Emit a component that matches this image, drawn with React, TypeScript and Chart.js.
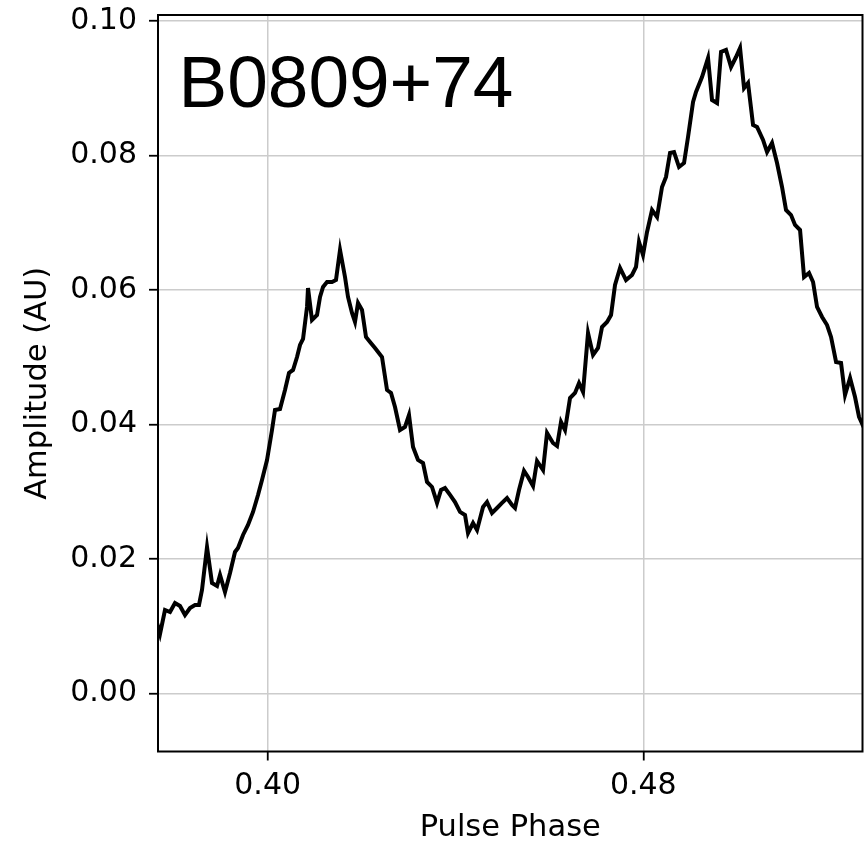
import React, { useEffect, useRef } from "react";
import { Chart, registerables } from "chart.js";
Chart.register(...registerables);

// Pulse phase (x) and amplitude (y)
const phase = [
  0.37579, 0.37707, 0.37813, 0.3792, 0.38026, 0.38133, 0.38239, 0.38346, 0.38452, 0.38537,
  0.38601, 0.38708, 0.38814, 0.38921, 0.38985, 0.39091, 0.39198, 0.39304, 0.39368, 0.39475,
  0.39581, 0.39688, 0.39794, 0.39879, 0.39986, 0.40092, 0.40156, 0.40263, 0.40369, 0.40454,
  0.4054, 0.40625, 0.40689, 0.40753, 0.40838, 0.40859, 0.40944, 0.41051, 0.41115, 0.41179,
  0.41264, 0.4137, 0.41455, 0.41541, 0.41647, 0.41711, 0.41796, 0.4186, 0.41924, 0.42009,
  0.42094, 0.4218, 0.42286, 0.42435, 0.42542, 0.42627, 0.42712, 0.42819, 0.42925, 0.4301,
  0.43096, 0.43202, 0.43309, 0.43394, 0.435, 0.43607, 0.43692, 0.43777, 0.43884, 0.4399,
  0.44097, 0.44203, 0.44267, 0.44374, 0.44459, 0.44587, 0.44672, 0.44778, 0.44885, 0.44991,
  0.45098, 0.45204, 0.45268, 0.45353, 0.4546, 0.45545, 0.45652, 0.45737, 0.45865, 0.4595,
  0.46077, 0.46163, 0.46248, 0.46333, 0.4644, 0.46546, 0.46631, 0.46717, 0.46823, 0.4693,
  0.47036, 0.47121, 0.47228, 0.47313, 0.47398, 0.47505, 0.47632, 0.4776, 0.47845, 0.47909,
  0.47994, 0.4808, 0.48186, 0.48293, 0.48399, 0.48484, 0.4857, 0.48655, 0.48761, 0.48868,
  0.48953, 0.4906, 0.49123, 0.49251, 0.49379, 0.49464, 0.49571, 0.49656, 0.49762, 0.49869,
  0.49975, 0.50061, 0.50146, 0.50231, 0.50338, 0.50423, 0.50551, 0.50636, 0.50742, 0.50849,
  0.50955, 0.5104, 0.51147, 0.51232, 0.51339, 0.51424, 0.5153, 0.51616, 0.51701, 0.51808,
  0.51914, 0.51999, 0.52106, 0.52212, 0.52297, 0.52404, 0.5251, 0.52595, 0.52702,
];

const amplitude = [
  0.01209, 0.00882, 0.01239, 0.01209, 0.01343, 0.01299, 0.01165, 0.01269, 0.01313, 0.01313,
  0.01536, 0.02176, 0.01641, 0.01596, 0.0176, 0.01507, 0.01789, 0.02102, 0.02161, 0.02355,
  0.02503, 0.02697, 0.0295, 0.03173, 0.0347, 0.03916, 0.04214, 0.04229, 0.04511, 0.04764,
  0.04809, 0.05002, 0.05181, 0.0527, 0.05746, 0.06028, 0.05553, 0.05627, 0.05895, 0.06043,
  0.06118, 0.06118, 0.06147, 0.06594, 0.06192, 0.05895, 0.05657, 0.05523, 0.05805, 0.05701,
  0.053, 0.05225, 0.05136, 0.05002, 0.04511, 0.04467, 0.04258, 0.03916, 0.03961, 0.04139,
  0.03663, 0.0347, 0.03425, 0.03143, 0.03069, 0.02831, 0.03024, 0.03054, 0.0295, 0.02845,
  0.02697, 0.02652, 0.02384, 0.02533, 0.02429, 0.02771, 0.02845, 0.02682, 0.02756, 0.02831,
  0.02905, 0.02801, 0.02756, 0.03024, 0.03307, 0.03217, 0.03083, 0.03455, 0.03321, 0.03872,
  0.03723, 0.03678, 0.04035, 0.03916, 0.04392, 0.04467, 0.04615, 0.04482, 0.05359, 0.05032,
  0.05136, 0.05448, 0.05523, 0.05627, 0.06073, 0.06326, 0.06147, 0.06222, 0.06341, 0.06713,
  0.06519, 0.06861, 0.07189, 0.07085, 0.07531, 0.0768, 0.08037, 0.08051, 0.07828, 0.07888,
  0.08274, 0.08795, 0.08944, 0.09167, 0.09449, 0.08825, 0.0878, 0.09539, 0.09569, 0.09316,
  0.09464, 0.09598, 0.09003, 0.09078, 0.08453, 0.08423, 0.0823, 0.08051, 0.08185, 0.07888,
  0.07531, 0.07189, 0.07114, 0.06966, 0.06891, 0.06192, 0.06252, 0.06118, 0.05746, 0.05597,
  0.05478, 0.053, 0.04928, 0.04913, 0.04437, 0.0469, 0.04407, 0.0411, 0.03946,
];

const xTicks = [0.4, 0.48];
const yTicks = [0.0, 0.02, 0.04, 0.06, 0.08, 0.1];
const xRange = [0.37664, 0.52669];
const yRange = [-0.00866, 0.10089];
const label = "B0809+74";

const FONT = "'DejaVu Sans', sans-serif";

export default function App() {
  const ref = useRef<HTMLCanvasElement | null>(null);

  useEffect(() => {
    if (!ref.current) return;
    const boxPlugin = {
      id: "boxAndLabel",
      afterDraw(chart: any) {
        const { ctx, chartArea } = chart;
        ctx.save();
        ctx.strokeStyle = "#000";
        ctx.lineWidth = 2;
        ctx.strokeRect(chartArea.left, chartArea.top, chartArea.right - chartArea.left, chartArea.bottom - chartArea.top);
        ctx.fillStyle = "#000";
        ctx.font = "73px 'Liberation Sans', Arial, sans-serif";
        ctx.textAlign = "left";
        ctx.textBaseline = "alphabetic";
        ctx.fillText(label, 178.5, 107);
        ctx.restore();
      },
    };

    const noPad = (s: any) => {
      s.paddingTop = 0;
      s.paddingBottom = 0;
      s.paddingLeft = 0;
      s.paddingRight = 0;
    };

    const chart = new Chart(ref.current, {
      type: "line",
      data: {
        datasets: [
          {
            data: phase.map((p, i) => ({ x: p, y: amplitude[i] })),
            borderColor: "#000",
            borderWidth: 4,
            pointRadius: 0,
            tension: 0,
            fill: false,
            clip: 0 as any,
          },
        ],
      },
      options: {
        responsive: false,
        animation: false,
        layout: { padding: { left: 0, top: 15, right: 4.5, bottom: 0 } },
        plugins: { legend: { display: false }, tooltip: { enabled: false } },
        scales: {
          x: {
            type: "linear",
            min: xRange[0],
            max: xRange[1],
            afterBuildTicks: (s: any) => {
              s.ticks = xTicks.map((v) => ({ value: v }));
            },
            afterFit: (s: any) => {
              s.height = 91.5;
              noPad(s);
            },
            ticks: {
              callback: (v: any) => Number(v).toFixed(2),
              font: { family: FONT, size: 30, lineHeight: 1 },
              color: "#000",
              padding: 11,
              maxRotation: 0,
              autoSkip: false,
            },
            grid: {
              color: "#cccccc",
              lineWidth: 1.5,
              tickLength: 9,
              tickColor: "#000",
              tickWidth: 1.8,
            },
            border: { display: false },
            title: {
              display: true,
              text: "Pulse Phase",
              color: "#000",
              font: { family: FONT, size: 30.5, lineHeight: 1 },
              padding: { top: 0, bottom: 0 },
            },
          },
          y: {
            type: "linear",
            min: yRange[0],
            max: yRange[1],
            afterBuildTicks: (s: any) => {
              s.ticks = yTicks.map((v) => ({ value: v }));
            },
            afterFit: (s: any) => {
              s.width = 158;
              noPad(s);
            },
            ticks: {
              callback: (v: any) => Number(v).toFixed(2),
              font: { family: FONT, size: 30, lineHeight: 1 },
              color: "#000",
              padding: 12,
              autoSkip: false,
            },
            grid: {
              color: "#cccccc",
              lineWidth: 1.5,
              tickLength: 9,
              tickColor: "#000",
              tickWidth: 1.8,
            },
            border: { display: false },
            title: {
              display: true,
              text: "Amplitude (AU)",
              color: "#000",
              font: { family: FONT, size: 30.5, lineHeight: 1 },
              padding: { top: 23, bottom: 0 },
            },
          },
        },
      },
      plugins: [boxPlugin],
    });
    return () => chart.destroy();
  }, []);

  return (
    <div style={{ position: "absolute", left: 0, top: 0, width: 867, height: 843 }}>
      <canvas ref={ref} width={867} height={843} style={{ display: "block" }} />
    </div>
  );
}
